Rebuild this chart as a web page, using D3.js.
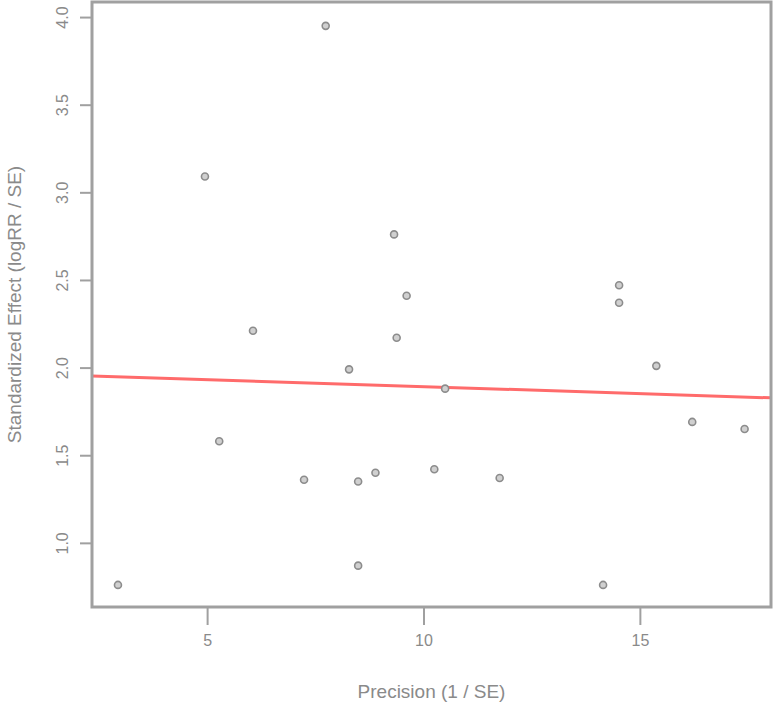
<!DOCTYPE html>
<html><head><meta charset="utf-8">
<script src="https://cdn.jsdelivr.net/npm/d3@7"></script>
<style>body{margin:0;background:#fff}svg{display:block}</style>
</head><body><svg id="c" width="773" height="706"></svg>
<script>
const precision = [2.94,4.95,5.28,6.06,7.24,7.74,8.28,8.49,8.49,8.89,9.32,9.38,9.61,10.25,10.50,11.76,14.15,14.52,14.52,15.38,16.21,17.42];
const effect    = [0.76,3.09,1.58,2.21,1.36,3.95,1.99,1.35,0.87,1.40,2.76,2.17,2.41,1.42,1.88,1.37,0.76,2.47,2.37,2.01,1.69,1.65];
const xTicks = [5,10,15];
const yTicks = [1.0,1.5,2.0,2.5,3.0,3.5,4.0];
const fitIntercept = 1.971, fitSlope = -0.00797;
const xTitle = "Precision (1 / SE)";
const yTitle = "Standardized Effect (logRR / SE)";

const svg = d3.select("#c");
const L=92,R=771,T=2,B=607;
const x = d3.scaleLinear().domain([2.34,18.03]).range([L,R]);
const y = d3.scaleLinear().domain([0.634,4.086]).range([B,T]);
const grey="#a0a0a0", txt="#8a8a8a";
const font="Liberation Sans, Arial, sans-serif";

// axes
const xa = svg.append("g").attr("transform",`translate(0,${B})`)
  .call(d3.axisBottom(x).tickValues(xTicks).tickSize(18).tickPadding(10).tickFormat(d3.format("d")));
const ya = svg.append("g").attr("transform",`translate(${L},0)`)
  .call(d3.axisLeft(y).tickValues(yTicks).tickSize(12).tickPadding(10).tickFormat(d3.format(".1f")));
[xa,ya].forEach(a=>{
  a.select(".domain").remove();
  a.selectAll("line").attr("stroke",grey).attr("stroke-width",2);
  a.selectAll("text").attr("fill",txt).attr("font-family",font).attr("font-size",16);
});
ya.selectAll(".tick text").attr("text-anchor","middle")
  .attr("x",-30).attr("y",0).attr("dy","0.35em")
  .attr("transform","rotate(-90,-30,0)");

// fit line
svg.append("line")
  .attr("x1",x(2.34)).attr("x2",x(18.03))
  .attr("y1",y(fitIntercept+fitSlope*2.34)).attr("y2",y(fitIntercept+fitSlope*18.03))
  .attr("stroke","#ff6b6b").attr("stroke-width",3);

// points
svg.append("g").selectAll("circle").data(precision.map((p,i)=>[p,effect[i]])).join("circle")
  .attr("cx",d=>x(d[0])).attr("cy",d=>y(d[1])).attr("r",3.5)
  .attr("fill","#d0d0d0").attr("stroke","#8c8c8c").attr("stroke-width",1.6);

// box
svg.append("rect").attr("x",L).attr("y",T).attr("width",R-L).attr("height",B-T)
  .attr("fill","none").attr("stroke",grey).attr("stroke-width",3);

// titles
svg.append("text").attr("x",(L+R)/2).attr("y",698).attr("text-anchor","middle")
  .attr("fill",txt).attr("font-family",font).attr("font-size",19).text(xTitle);
svg.append("text").attr("transform",`translate(21,${(T+B)/2}) rotate(-90)`).attr("text-anchor","middle")
  .attr("fill",txt).attr("font-family",font).attr("font-size",19).text(yTitle);
</script></body></html>
